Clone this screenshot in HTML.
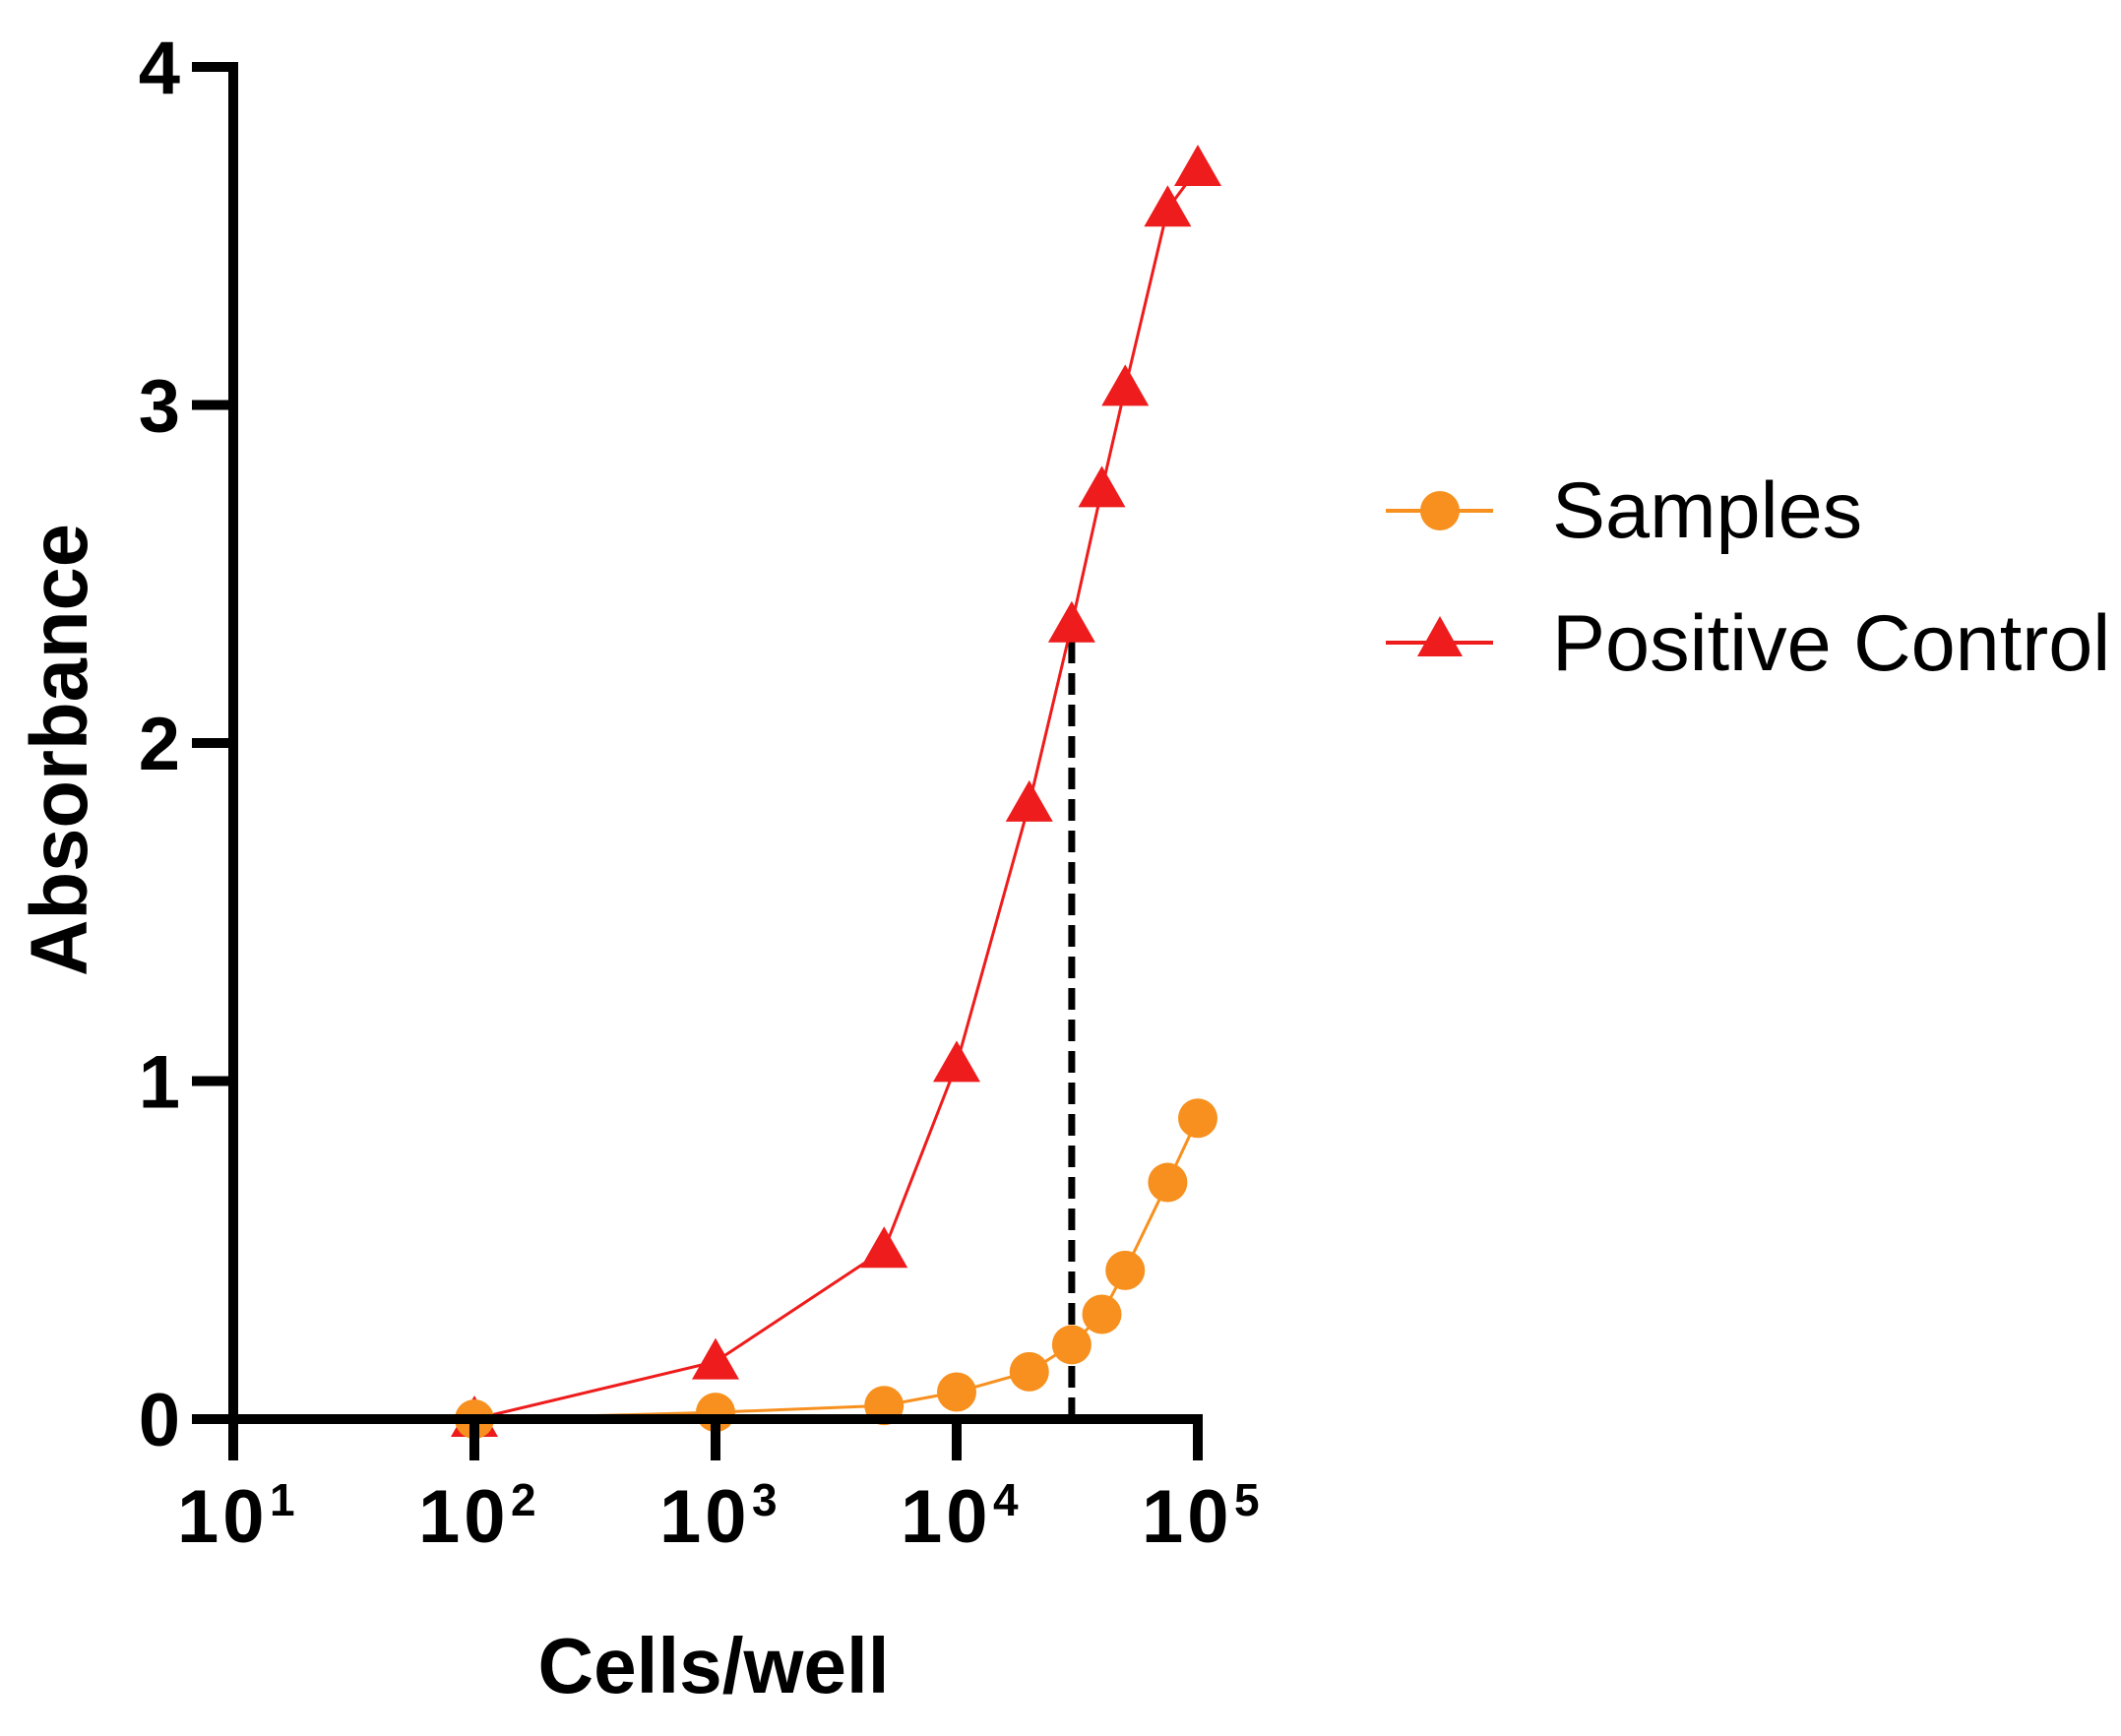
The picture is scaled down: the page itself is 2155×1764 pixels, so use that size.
<!DOCTYPE html>
<html><head><meta charset="utf-8"><style>
body{margin:0;background:#fff}
svg{display:block;font-family:"Liberation Sans",Arial,sans-serif}
</style></head><body>
<svg id="chart" width="2155" height="1764" viewBox="0 0 2155 1764" xmlns="http://www.w3.org/2000/svg">
<g id="marks"></g>
<g id="axes"></g>
<text transform="translate(88,762) rotate(-90)" text-anchor="middle" font-size="82" font-weight="bold" textLength="460" lengthAdjust="spacingAndGlyphs">Absorbance</text>
<text x="725" y="1720" text-anchor="middle" font-size="80" font-weight="bold" textLength="357" lengthAdjust="spacingAndGlyphs">Cells/well</text>
<g>
<g>
<line x1="1408" y1="519" x2="1517" y2="519" stroke="#f7901e" stroke-width="4"/>
<circle cx="1463" cy="519" r="20" fill="#f7901e"/>
<text x="1577" y="546" font-size="81">Samples</text>
</g>
<g>
<line x1="1408" y1="653" x2="1517" y2="653" stroke="#ee1c1c" stroke-width="4"/>
<polygon points="1463,626 1486,667 1440,667" fill="#ee1c1c"/>
<text x="1577" y="681" font-size="81">Positive Control</text>
</g>
</g>
</svg>
<script>
const cells=[100,1000,5000,10000,20000,30000,40000,50000,75000,100000];
const samples=[0,0.02,0.04,0.08,0.14,0.22,0.31,0.44,0.70,0.89];
const positive=[0,0.17,0.5,1.05,1.82,2.35,2.75,3.05,3.58,3.7];
const yTicks=[0,1,2,3,4];
const xTickExps=[1,2,3,4,5];
const cutoffX=30000;
const cutoffY=2.3;

const NS="http://www.w3.org/2000/svg";
const X0=237,DEC=245,Y0=1442,YU=343.5;
function xs(v){return X0+(Math.log10(v)-1)*DEC;}
function ys(v){return Y0-v*YU;}
function mk(tag,attrs,parent){const e=document.createElementNS(NS,tag);for(const k in attrs)e.setAttribute(k,attrs[k]);parent.appendChild(e);return e;}
const marks=document.getElementById('marks'),axes=document.getElementById('axes');

let a=mk('line',{x1:X0,y1:ys(4)-5,x2:X0,y2:Y0+5,stroke:'#000','stroke-width':10},axes);


a=mk('line',{x1:195,y1:Y0,x2:xs(1e5)+5,y2:Y0,stroke:'#000','stroke-width':10},axes);


yTicks.forEach(t=>{
  const l=mk('line',{x1:195,y1:ys(t),x2:X0,y2:ys(t),stroke:'#000','stroke-width':10},axes);
  
  
  const tx=mk('text',{x:183,y:ys(t)+27,'text-anchor':'end','font-size':76,'font-weight':'bold'},axes);
  tx.textContent=t;
  
  
});
xTickExps.forEach(e=>{
  const x=xs(Math.pow(10,e));
  const l=mk('line',{x1:x,y1:Y0,x2:x,y2:1484,stroke:'#000','stroke-width':10},axes);
  
  
  const tx=mk('text',{x:x-57,y:1567,'font-size':76,'font-weight':'bold','letter-spacing':4},axes);
  tx.textContent='10';
  
  
  const sp=mk('text',{x:x+37,y:1540,'font-size':46,'font-weight':'bold'},axes);
  sp.textContent=e;
  
  
});

const d=mk('line',{x1:xs(cutoffX),y1:ys(0),x2:xs(cutoffX),y2:ys(cutoffY),stroke:'#000','stroke-width':7,'stroke-dasharray':'22 10'},marks);



let pts=cells.map((c,i)=>xs(c)+','+ys(positive[i])).join(' ');
let pl=mk('polyline',{points:pts,fill:'none',stroke:'#ee1c1c','stroke-width':3},marks);


pts=cells.map((c,i)=>xs(c)+','+ys(samples[i])).join(' ');
pl=mk('polyline',{points:pts,fill:'none',stroke:'#f7901e','stroke-width':3},marks);


cells.forEach((c,i)=>{
  const x=xs(c),y=ys(positive[i]);
  const p=mk('polygon',{points:`${x},${y-24} ${x+24},${y+18} ${x-24},${y+18}`,fill:'#ee1c1c'},marks);
  
  
});
cells.forEach((c,i)=>{
  const ci=mk('circle',{cx:xs(c),cy:ys(samples[i]),r:20,fill:'#f7901e'},marks);
  
  
});
</script>
</body></html>
